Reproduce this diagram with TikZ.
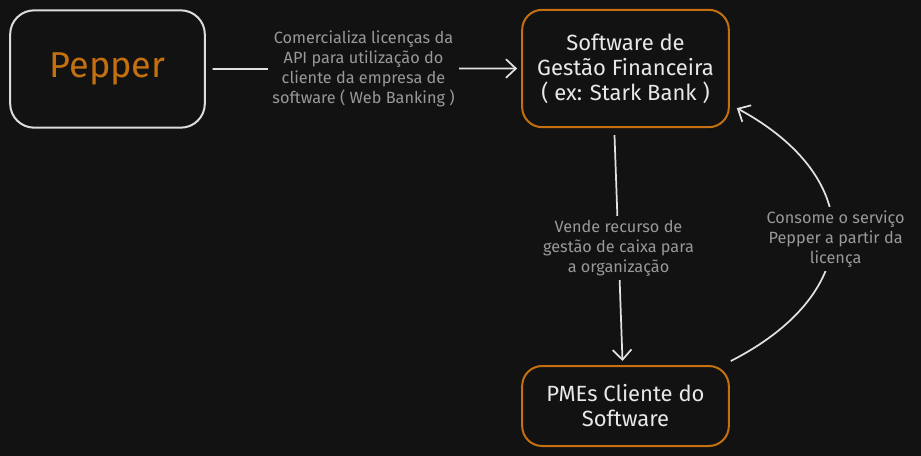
\documentclass[tikz,border=0pt]{standalone}
\usepackage{fontspec}
\setmainfont{Fira Sans}
\usepackage{xcolor}
\usetikzlibrary{arrows.meta}
\definecolor{bg}{HTML}{121212}
\definecolor{orng}{HTML}{C4700F}
\definecolor{edge}{HTML}{DCDCDC}
\definecolor{note}{HTML}{999999}
\definecolor{ink}{HTML}{E8E8E8}

\begin{document}
\begin{tikzpicture}[x=0.75pt, y=-0.75pt,
  box/.style={draw=orng, line width=1.5pt, rounded corners=15pt, fill=bg, text=ink, align=center, font=\fontsize{16.5}{18.75}\selectfont},
  lbl/.style={fill=bg, text=note, align=center, font=\fontsize{12.2}{15}\selectfont, inner sep=3pt},
  link/.style={draw=edge!85, line width=1.3pt, -{Straight Barb[length=7.5pt,width=14pt]}}]
\fill [bg] (0, 0) rectangle (921, 456);
\useasboundingbox (0, 0) rectangle (921, 456);

\node [box, draw=edge, rounded corners=18pt, minimum width=146pt, minimum height=88pt, text=orng, font=\fontsize{27}{30}\selectfont] (pepper) at (107.5, 69) {Pepper};
\node [box, minimum width=155pt, minimum height=88pt] (soft) at (625.5, 68.5) {Software de\\Gestão Financeira\\( ex: Stark Bank )};
\node [box, minimum width=155pt, minimum height=60pt] (pmes) at (625.5, 406) {PMEs Cliente do\\Software};

\draw [link, shorten <=5pt, shorten >=3pt] (pepper.east) -- node[lbl]{Comercializa licenças da\\API para utilização do\\cliente da empresa de\\software ( Web Banking )} (soft.west);
\draw [link] ([shift={(-11, 7)}]soft.south) -- node[lbl, pos=0.5]{Vende recurso de\\gestão de caixa para\\a organização} ([shift={(-3, -4)}]pmes.north);
\draw [link] ([shift={(1, -4)}]pmes.north east) .. controls (866, 292) and (866, 178) .. node[lbl, yshift=-3pt, xshift=2pt]{Consome o serviço\\Pepper a partir da\\licença} ([shift={(7, -20)}]soft.south east);
\end{tikzpicture}
\end{document}
